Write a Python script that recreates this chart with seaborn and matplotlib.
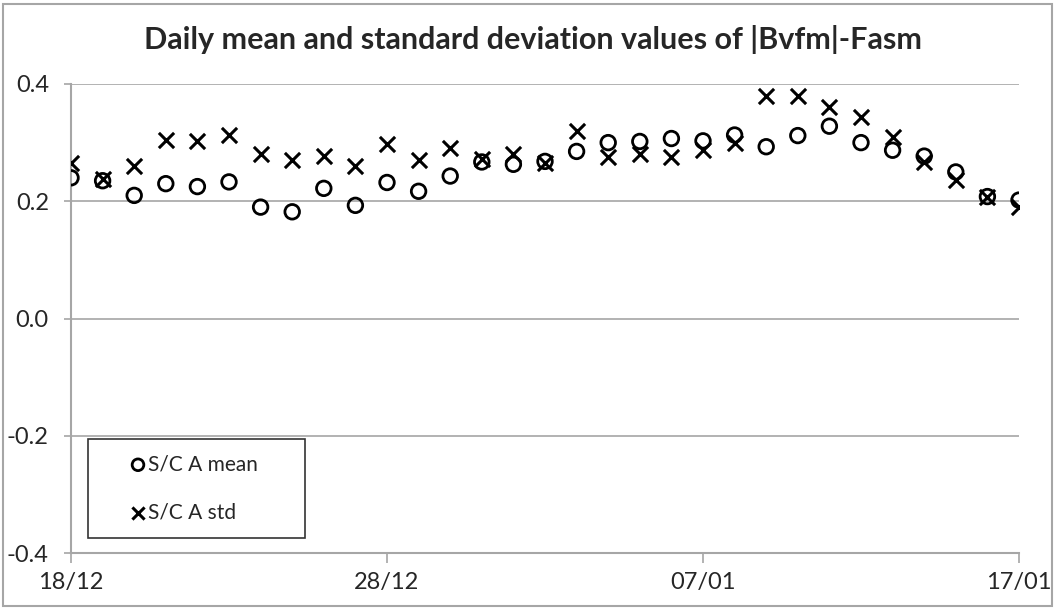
import pandas as pd
import matplotlib
matplotlib.use('Agg')
import matplotlib.pyplot as plt
import matplotlib.dates as mdates
from matplotlib.patches import Rectangle
import seaborn as sns

# Daily values, 18/12 -> 17/01
dates = pd.date_range('2013-12-18', '2014-01-17', freq='D')
mean_vals = [0.240, 0.235, 0.210, 0.230, 0.225, 0.233, 0.190, 0.182, 0.222, 0.193,
             0.232, 0.217, 0.243, 0.267, 0.263, 0.268, 0.285, 0.300, 0.302, 0.307,
             0.303, 0.313, 0.293, 0.312, 0.328, 0.300, 0.287, 0.277, 0.250, 0.208,
             0.202]
std_vals = [0.265, 0.238, 0.260, 0.305, 0.303, 0.313, 0.280, 0.270, 0.278, 0.260,
            0.298, 0.270, 0.290, 0.272, 0.280, 0.265, 0.320, 0.275, 0.280, 0.275,
            0.287, 0.300, 0.380, 0.380, 0.360, 0.343, 0.310, 0.267, 0.237, 0.208,
            0.190]
tick_dates = ['2013-12-18', '2013-12-28', '2014-01-07', '2014-01-17']

df = pd.DataFrame({'date': dates, 'mean': mean_vals, 'std': std_vals})

sns.set_style('white')
plt.rcParams['font.family'] = ['Lato', 'DejaVu Sans']

fig = plt.figure(figsize=(10.56, 6.09), dpi=100)
ax = fig.add_axes([71 / 1056, 56 / 609, 948 / 1056, 469 / 609])

sns.scatterplot(data=df, x='date', y='mean', ax=ax, marker='o', s=110,
                facecolors='none', edgecolor='black', linewidth=2,
                label='S/C A mean', zorder=3)
sns.scatterplot(data=df, x='date', y='std', ax=ax, marker='x', s=120,
                color='black', linewidth=2.2, label='S/C A std', zorder=3)

ax.set_xlim(pd.Timestamp(tick_dates[0]), pd.Timestamp(tick_dates[-1]))
ax.set_ylim(-0.4, 0.4)
ax.set_yticks([-0.4, -0.2, 0.0, 0.2, 0.4])
ax.set_yticklabels(['-0.4', '-0.2', '0.0', '0.2', '0.4'])
ax.set_xticks(pd.to_datetime(tick_dates))
ax.xaxis.set_major_formatter(mdates.DateFormatter('%d/%m'))
ax.set_xlabel('')
ax.set_ylabel('')

ax.grid(axis='y', color='#a6a6a6', linewidth=1.2)
ax.set_axisbelow(True)
for side in ['top', 'right']:
    ax.spines[side].set_visible(False)
for side in ['left', 'bottom']:
    ax.spines[side].set_color('#a6a6a6')
    ax.spines[side].set_linewidth(1.5)
ax.tick_params(axis='x', direction='out', length=7, width=1.2, color='#a6a6a6',
               labelsize=17, pad=7, bottom=True)
ax.tick_params(axis='y', direction='out', length=5, width=1.2, color='#a6a6a6',
               labelsize=17, pad=11, left=True)

# title is centred on the figure, not on the axes
fig.text(533 / 1056, 1 - 40 / 609,
         'Daily mean and standard deviation values of |Bvfm|-Fasm',
         fontsize=22, fontweight='bold', ha='center', va='center')

leg = ax.legend(loc='lower left',
                bbox_to_anchor=(17 / 948, 15 / 469, 217 / 948, 103 / 469),
                mode='expand', frameon=True, fancybox=False, fontsize=15,
                handletextpad=-1.15, labelspacing=1.35, borderpad=0.75,
                handlelength=3.3, markerscale=0.8, borderaxespad=0)
leg.get_frame().set_edgecolor('black')
leg.get_frame().set_linewidth(1.2)

# grey border round the whole chart
fig.patches.append(Rectangle((3 / 1056, 3 / 609), 1049 / 1056, 602 / 609,
                             transform=fig.transFigure, fill=False,
                             edgecolor='#a6a6a6', linewidth=1.5))

fig.savefig('out.png', dpi=100)
